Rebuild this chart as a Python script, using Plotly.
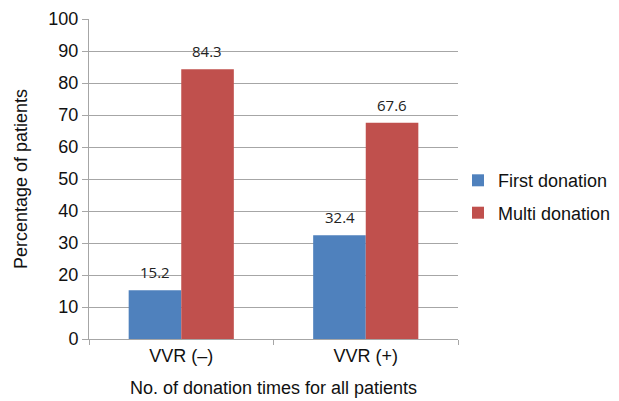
import plotly.graph_objects as go

categories = ["VVR (\u2013)", "VVR (+)"]
first_donation = [15.2, 32.4]
multi_donation = [84.3, 67.6]
y_ticks = [0, 10, 20, 30, 40, 50, 60, 70, 80, 90, 100]

BLUE = "#4F81BD"
RED = "#C0504D"
FONT = "Liberation Sans, Arial, sans-serif"
LABEL_FONT = dict(family="Open Sans, sans-serif", size=15, color="#222")

fig = go.Figure()
fig.add_trace(go.Bar(name="First donation", x=categories, y=first_donation, legendgroup="a",
                     marker=dict(color=BLUE, line=dict(width=0))))
fig.add_trace(go.Bar(name="Multi donation", x=categories, y=multi_donation, legendgroup="b",
                     marker=dict(color=RED, line=dict(width=0))))

# value labels above bars
for series, shift in ((first_donation, -26), (multi_donation, 26)):
    for cat, v in zip(categories, series):
        fig.add_annotation(x=cat, y=v, text=f"{v:.1f}", showarrow=False,
                           xshift=shift, yshift=18, font=LABEL_FONT)

fig.update_layout(
    width=611, height=393,
    margin=dict(l=81, r=161, t=11, b=62, autoexpand=False),
    paper_bgcolor="white", plot_bgcolor="white",
    barmode="group", bargap=0.43, bargroupgap=0,
    font=dict(family=FONT, size=18, color="#111"),
    showlegend=True,
    legend=dict(x=1.0, y=0.445, xanchor="left", yanchor="middle",
                font=dict(family=FONT, size=18, color="#111"),
                itemwidth=30, tracegroupgap=6, bgcolor="rgba(0,0,0,0)"),
)
fig.update_yaxes(range=[0, 100], tickvals=y_ticks, showgrid=True, gridcolor="#A6A6A6",
                 gridwidth=1, showline=True, linecolor="#A6A6A6", linewidth=1,
                 ticks="outside", ticklen=6, tickcolor="#A6A6A6",
                 tickfont=dict(family=FONT, size=18, color="#111"),
                 title=dict(text="Percentage of patients", font=dict(family=FONT, size=18), standoff=16),
                 zeroline=False, automargin=False)
fig.update_xaxes(showline=True, linecolor="#A6A6A6", linewidth=1,
                 ticks="outside", ticklen=5, tickcolor="#A6A6A6", tickson="boundaries",
                 tickfont=dict(family=FONT, size=18, color="#111"),
                 title=dict(text="No. of donation times for all patients", font=dict(family=FONT, size=18), standoff=16),
                 automargin=False)

fig.write_html("out.html")
